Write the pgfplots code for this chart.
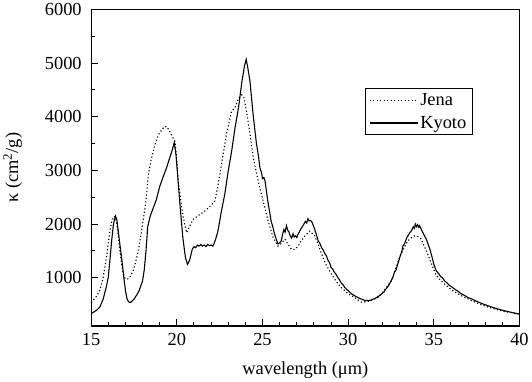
\documentclass[border=0pt]{standalone}
\usepackage{fontspec}
\setmainfont{Liberation Serif}
\usepackage{pgfplots}
\pgfplotsset{compat=1.18}
\newcommand{\bigf}{\fontsize{18.5}{21}\selectfont}
\begin{document}
\begin{tikzpicture}[font=\bigf]
\begin{axis}[
  scale only axis,
  width=429bp, height=317bp,
  xmin=15, xmax=40, ymin=100, ymax=6000,
  xtick={15,20,...,40}, minor x tick num=4,
  ytick={1000,2000,...,6000}, minor y tick num=1,
  tick align=inside, xtick pos=bottom, ytick pos=left,
  major tick length=7bp, minor tick length=4bp,
  axis line style={line width=1.3pt},
  every tick/.style={black, line width=1pt},
  /pgf/number format/assume math mode=true,
  /pgf/number format/1000 sep={},
  tick label style={font=\bigf},
  label style={font=\bigf},
  xticklabel style={yshift=-4bp},
  yticklabel style={xshift=-6bp},
  xlabel={wavelength (μm)},
  ylabel={κ (cm\textsuperscript{2}/g)},
  xlabel style={yshift=-9bp},
  ylabel style={yshift=16bp},
  legend cell align=left,
  legend style={at={(0.639,0.751)}, anchor=north west, draw=black, line width=0.8pt,
    inner xsep=4bp, inner ysep=3bp, row sep=5bp, font=\bigf},
  legend image code/.code={\draw[#1] (0bp,0bp) -- (48bp,0bp);},
]
\addplot[black, line width=1.1pt, dash pattern=on 1.2pt off 2.3pt] coordinates {
(15.0,540)(15.3,650)(15.5,760)(15.7,1000)(15.9,1400)(16.0,1650)(16.1,1880)(16.2,2050)
(16.32,2140)(16.42,2130)(16.5,2000)(16.6,1720)(16.7,1450)(16.8,1200)(16.9,1040)(17.0,975)
(17.15,980)(17.3,1030)(17.45,1130)(17.6,1300)(17.75,1500)(17.9,1780)(18.03,2060)(18.2,2430)
(18.34,2930)(18.5,3200)(18.73,3480)(18.9,3650)(19.12,3760)(19.3,3825)(19.45,3800)(19.6,3720)
(19.75,3620)(19.9,3540)(20.0,3150)(20.1,2750)(20.25,2400)(20.38,2120)(20.57,1840)(20.75,1960)
(20.96,2090)(21.3,2170)(21.64,2245)(22.0,2350)(22.22,2430)(22.42,2750)(22.61,3120)(22.9,3680)
(23.19,4100)(23.39,4170)(23.58,4330)(23.78,4410)(23.9,4380)(24.07,4100)(24.27,3680)(24.46,3240)
(24.75,2800)(25.04,2430)(25.33,2060)(25.62,1750)(25.9,1590)(26.1,1640)(26.3,1720)(26.5,1620)
(26.69,1530)(26.89,1530)(27.1,1600)(27.27,1690)(27.5,1790)(27.76,1870)(28.05,1780)(28.25,1620)
(28.44,1450)(28.7,1250)(29.02,1070)(29.3,930)(29.6,820)(30.0,700)(30.38,630)(30.77,545)
(31.2,560)(31.74,630)(32.1,760)(32.52,940)(32.75,1150)(33.0,1380)(33.25,1550)(33.49,1690)
(33.7,1750)(33.88,1780)(34.05,1770)(34.27,1720)(34.45,1580)(34.66,1430)(34.9,1230)(35.14,1040)
(35.4,950)(35.63,880)(36.1,760)(36.6,665)(37.1,590)(37.57,520)(38.05,465)(38.54,417)
(39.2,365)(40.0,324)
};
\addlegendentry{Jena}
\addplot[black, line width=1.1pt] coordinates {
(15.0,330)(15.3,390)(15.5,450)(15.7,600)(15.9,850)(16.0,1010)(16.1,1350)(16.2,1700)
(16.3,2000)(16.42,2150)(16.5,2080)(16.6,1820)(16.7,1560)(16.8,1310)(16.9,1020)(17.0,760)
(17.1,600)(17.2,545)(17.3,540)(17.5,600)(17.7,700)(17.8,760)(18.0,940)(18.1,1150)
(18.2,1500)(18.3,1950)(18.45,2150)(18.6,2280)(18.8,2450)(19.0,2700)(19.2,2880)(19.4,3050)
(19.6,3250)(19.75,3400)(19.85,3520)(19.95,3300)(20.05,2900)(20.2,2300)(20.35,1750)(20.5,1380)
(20.62,1250)(20.75,1330)(20.9,1530)(21.0,1580)(21.1,1560)(21.2,1610)(21.3,1590)(21.4,1620)
(21.5,1590)(21.6,1610)(21.7,1580)(21.8,1620)(21.9,1600)(22.0,1610)(22.1,1590)(22.15,1620)
(22.25,1700)(22.4,1870)(22.6,2240)(22.8,2560)(23.0,2990)(23.2,3360)(23.4,3800)(23.6,4170)
(23.8,4660)(23.95,4950)(24.05,5070)(24.15,4900)(24.27,4660)(24.45,4050)(24.65,3490)(24.75,3300)
(24.85,3050)(24.95,2950)(25.0,2850)(25.08,2870)(25.15,2800)(25.3,2450)(25.5,2060)(25.6,1950)
(25.7,1820)(25.8,1720)(25.9,1630)(26.0,1650)(26.1,1690)(26.18,1820)(26.25,1900)(26.32,1850)
(26.4,1970)(26.48,1880)(26.55,1850)(26.62,1780)(26.7,1740)(26.78,1820)(26.85,1760)(26.93,1780)
(27.0,1750)(27.08,1820)(27.15,1850)(27.22,1900)(27.3,1940)(27.4,1990)(27.5,2050)(27.58,2020)
(27.65,2100)(27.72,2060)(27.8,2070)(27.9,2030)(27.98,1960)(28.05,1900)(28.15,1800)(28.25,1690)
(28.35,1640)(28.45,1560)(28.54,1520)(28.64,1450)(28.73,1410)(28.83,1320)(28.92,1280)(29.0,1190)
(29.1,1160)(29.2,1100)(29.3,1060)(29.4,1000)(29.5,960)(29.6,900)(29.7,870)(29.8,820)
(30.0,760)(30.2,700)(30.4,660)(30.7,610)(31.0,575)(31.3,580)(31.6,620)(31.8,660)
(31.95,700)(32.1,740)(32.2,790)(32.35,850)(32.5,940)(32.6,1000)(32.7,1100)(32.8,1150)
(32.9,1260)(32.97,1330)(33.05,1420)(33.12,1480)(33.2,1590)(33.3,1640)(33.4,1730)(33.5,1790)
(33.6,1840)(33.7,1880)(33.8,1950)(33.86,1920)(33.92,2000)(33.98,1950)(34.05,1990)(34.12,1940)
(34.17,1970)(34.3,1880)(34.38,1830)(34.46,1780)(34.56,1720)(34.66,1630)(34.78,1520)(34.9,1380)
(35.0,1250)(35.14,1130)(35.25,1090)(35.4,1020)(35.5,1000)(35.63,940)(35.75,910)(35.9,860)
(36.05,830)(36.2,790)(36.4,750)(36.6,700)(36.8,670)(37.0,630)(37.25,600)(37.5,560)
(37.8,520)(38.15,480)(38.6,430)(39.1,386)(39.6,350)(40.0,320)
};
\addlegendentry{Kyoto}
\end{axis}
\end{tikzpicture}
\end{document}
